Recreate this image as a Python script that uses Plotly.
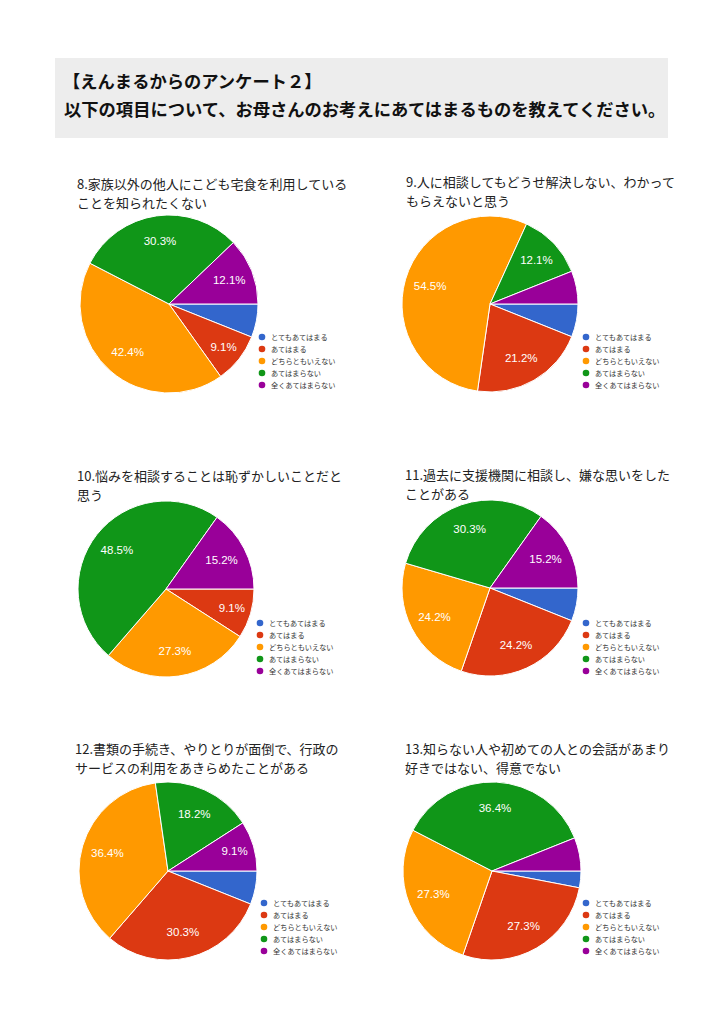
import plotly.graph_objects as go

W, H = 724, 1024
OFF = 8  # page body margin compensation

categories = ["とてもあてはまる", "あてはまる", "どちらともいえない", "あてはまらない", "全くあてはまらない"]
colors = ["#3366cc", "#dc3912", "#ff9900", "#109618", "#990099"]

q8_values = [2, 3, 14, 10, 4]
q9_values = [2, 7, 18, 4, 2]
q10_values = [0, 3, 9, 16, 5]
q11_values = [2, 8, 8, 10, 5]
q12_values = [2, 10, 12, 6, 3]
q13_values = [1, 9, 9, 12, 2]

q8_title = ["8.家族以外の他人にこども宅食を利用している", "ことを知られたくない"]
q9_title = ["9.人に相談してもどうせ解決しない、わかって", "もらえないと思う"]
q10_title = ["10.悩みを相談することは恥ずかしいことだと", "思う"]
q11_title = ["11.過去に支援機関に相談し、嫌な思いをした", "ことがある"]
q12_title = ["12.書類の手続き、やりとりが面倒で、行政の", "サービスの利用をあきらめたことがある"]
q13_title = ["13.知らない人や初めての人との会話があまり", "好きではない、得意でない"]

header_lines = ["【えんまるからのアンケート２】",
                "以下の項目について、お母さんのお考えにあてはまるものを教えてください。"]

# layout (pixel positions): pie center, radius, title origin, legend origin
panels = [
    dict(v=q8_values,  t=q8_title,  c=(169, 304), r=89, tp=(75, 183), lg=(262, 337)),
    dict(v=q9_values,  t=q9_title,  c=(490, 304), r=88, tp=(404, 181), lg=(586, 337)),
    dict(v=q10_values, t=q10_title, c=(166, 589), r=88, tp=(75, 475), lg=(260, 623)),
    dict(v=q11_values, t=q11_title, c=(490, 588), r=88, tp=(403, 474), lg=(586, 623)),
    dict(v=q12_values, t=q12_title, c=(168, 871), r=89, tp=(73, 748), lg=(264, 903)),
    dict(v=q13_values, t=q13_title, c=(492, 871), r=89, tp=(403, 748), lg=(586, 903)),
]

def px(x):
    return (x - OFF) / W

def py(y):
    return 1 - (y - OFF) / H

fig = go.Figure()
shapes = []
annotations = []

# header box
shapes.append(dict(type="rect", xref="paper", yref="paper",
                   x0=px(55), x1=px(668), y0=py(138), y1=py(58),
                   fillcolor="#ededed", line=dict(width=0), layer="below"))
for i, line in enumerate(header_lines):
    annotations.append(dict(text="<b>" + line + "</b>", xref="paper", yref="paper",
                            x=px(61 if i == 0 else 62), y=py(80 + 28 * i),
                            xanchor="left", yanchor="middle", showarrow=False,
                            font=dict(family="Noto Sans CJK JP", size=17.3, color="#111111")))

for p in panels:
    vals = p["v"]
    total = sum(vals)
    texts = [f"{v / total * 100:.1f}%" if v / total >= 0.08 else "" for v in vals]
    cx, cy = p["c"]
    r = p["r"]
    dom = dict(x=[px(cx - r), px(cx + r)], y=[py(cy + r), py(cy - r)])
    fig.add_trace(go.Pie(
        labels=categories, values=vals, sort=False, direction="clockwise", rotation=90,
        marker=dict(colors=colors, line=dict(color="white", width=1)),
        textinfo="none", domain=dom, showlegend=False, hoverinfo="label+percent",
    ))
    # label layer: transparent ring so labels sit out toward the rim
    fig.add_trace(go.Pie(
        labels=categories, values=vals, sort=False, direction="clockwise", rotation=90,
        hole=0.42,
        marker=dict(colors=["rgba(0,0,0,0)"] * len(vals), line=dict(width=0)),
        text=texts, textinfo="text", textposition="inside",
        insidetextorientation="horizontal",
        textfont=dict(family="Liberation Sans, Arial", size=11.5, color="white"),
        domain=dom, showlegend=False, hoverinfo="skip",
    ))
    tx, ty = p["tp"]
    for j, line in enumerate(p["t"]):
        annotations.append(dict(text=line, xref="paper", yref="paper",
                                x=px(tx), y=py(ty + 19 * j), xanchor="left", yanchor="middle",
                                showarrow=False,
                                font=dict(family="Noto Sans CJK JP", size=13, color="#222222")))
    lx, ly = p["lg"]
    for k, cat in enumerate(categories):
        yy = ly + 12 * k
        shapes.append(dict(type="circle", xref="paper", yref="paper",
                           x0=px(lx - 3.3), x1=px(lx + 3.3), y0=py(yy + 3.3), y1=py(yy - 3.3),
                           fillcolor=colors[k], line=dict(width=0)))
        annotations.append(dict(text=cat, xref="paper", yref="paper",
                                x=px(lx + 7), y=py(yy), xanchor="left", yanchor="middle",
                                showarrow=False,
                                font=dict(family="Noto Sans CJK JP", size=7.2, color="#333333")))

fig.update_layout(width=W, height=H, margin=dict(l=0, r=0, t=0, b=0),
                  paper_bgcolor="white", plot_bgcolor="white",
                  uniformtext=dict(minsize=11.5, mode="show"),
                  shapes=shapes, annotations=annotations)

fig.write_html("out.html")
